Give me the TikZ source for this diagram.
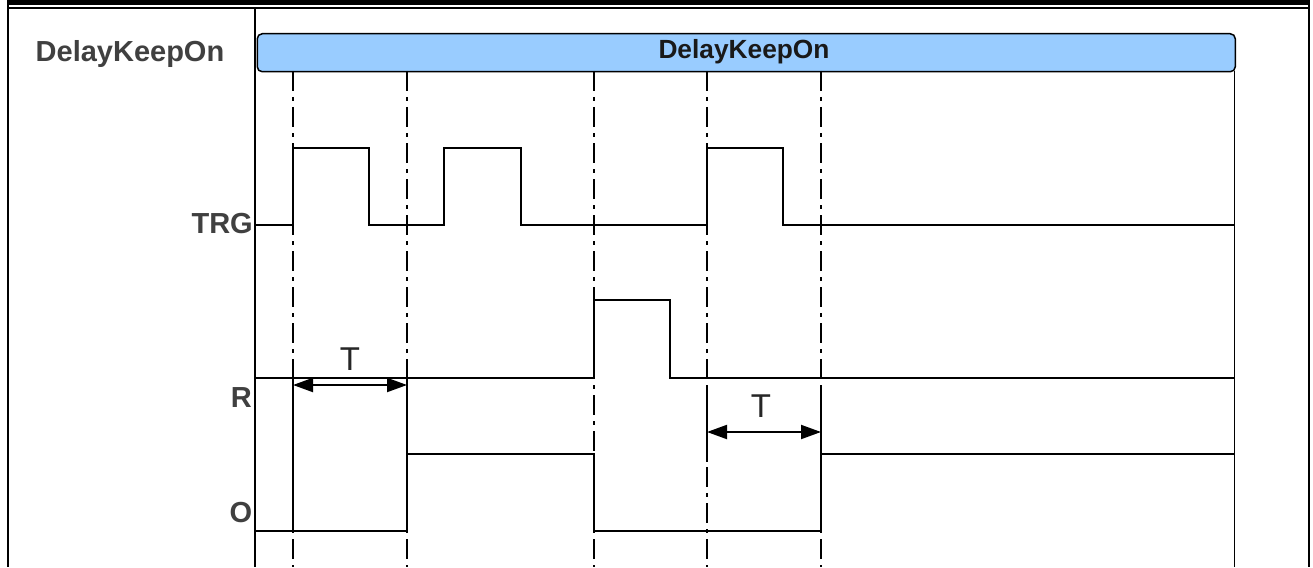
\documentclass[tikz,border=0pt]{standalone}
\usepackage{fontspec}
\setmainfont{Liberation Sans}
\usetikzlibrary{arrows.meta}
\definecolor{hdrblue}{HTML}{99CCFF}
\definecolor{lblgray}{HTML}{404040}
\begin{document}
\begin{tikzpicture}[x=1pt,y=-1pt,
  sig/.style={line width=2pt, line join=miter},
  guide/.style={line width=1.6pt, dash pattern=on 20pt off 6pt on 4pt off 6pt},
  framel/.style={line width=2pt},
  lbl/.style={font=\fontsize{29}{29}\selectfont\bfseries, text=lblgray, inner sep=0pt},
  tlbl/.style={font=\fontsize{33}{33}\selectfont, text=black!85, inner sep=0pt},
  dim/.style={line width=2pt, {Triangle[length=20pt,width=14pt]}-{Triangle[length=20pt,width=14pt]}},
]
\useasboundingbox (0,0) rectangle (1313,567);
\fill[white] (0,0) rectangle (1313,567);
% table frame
\draw[line width=5.5pt] (7,2.75) -- (1310,2.75);
\draw[framel] (8,0) -- (8,567);
\draw[framel] (1309,0) -- (1309,567);
\draw[framel] (8,8.3) -- (1309,8.3);
\draw[framel] (255,8.3) -- (255,567);
% header bar
\node[draw, fill=hdrblue, rounded corners=5pt, line width=1.5pt, inner sep=0pt,
      minimum width=978pt, minimum height=38pt, anchor=north west] (hdr) at (256.5,33) {};
\node[font=\fontsize{26.3}{26.3}\selectfont\bfseries, text=black!90, inner sep=0pt, anchor=base]
      (hdrtext) at (744,59) {DelayKeepOn};
% plot right edge
\draw[line width=1.5pt] (1234.5,71) -- (1234.5,567);
% guide lines
\foreach \gx in {293,407,594,707,821} {
  \draw[guide] (\gx,71) -- (\gx,567);
}
% labels
\node[lbl, anchor=base] (title) at (130,62) {DelayKeepOn};
\node[lbl, anchor=base east] (trg) at (253,233.5) {TRG};
\node[lbl, anchor=base east] (rlbl) at (252,407) {R};
\node[lbl, anchor=base east] (olbl) at (252.5,522) {O};
% signals
\draw[sig] (256,225) -- (293,225) -- (293,148) -- (369,148) -- (369,225) -- (444,225)
  -- (444,148) -- (521,148) -- (521,225) -- (707,225) -- (707,148) -- (783,148)
  -- (783,225) -- (1234,225);
\draw[sig] (256,378) -- (594,378) -- (594,300) -- (670,300) -- (670,378) -- (1234,378);
\draw[sig] (256,531) -- (407,531) -- (407,454) -- (594,454) -- (594,531) -- (821,531)
  -- (821,454) -- (1234,454);
% extension lines
\draw[sig] (293,378) -- (293,531);
\draw[sig] (407,378) -- (407,454);
\draw[sig] (707,387) -- (707,462);
\draw[sig] (821,387) -- (821,454);
% dimension arrows
\coordinate (t1a) at (293,385);
\coordinate (t1b) at (407,385);
\coordinate (t2a) at (707,432);
\coordinate (t2b) at (821,432);
\draw[dim] (t1a) -- (t1b);
\draw[dim] (t2a) -- (t2b);
\node[tlbl, anchor=base] (tl1) at (350,370) {T};
\node[tlbl, anchor=base] (tl2) at (761,417) {T};
\end{tikzpicture}
\end{document}
